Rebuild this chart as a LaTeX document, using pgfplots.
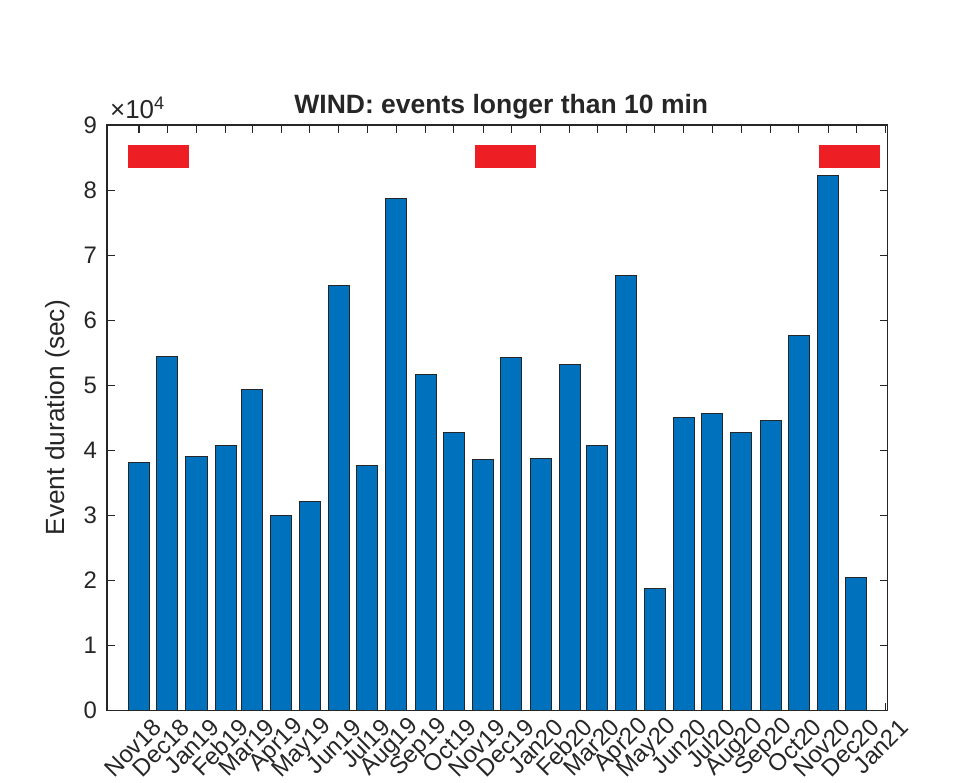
\documentclass[border=0pt]{standalone}
\usepackage{fontspec}
\setmainfont{Liberation Sans}
\usepackage{pgfplots}
\pgfplotsset{compat=1.18}
\definecolor{barblue}{rgb}{0,0.447,0.741}
\definecolor{axgray}{rgb}{0.15,0.15,0.15}
\definecolor{evred}{RGB}{237,30,36}
\begin{document}
\begin{tikzpicture}
\path[use as bounding box] (-107bp,-72.5bp) rectangle (849bp,710.5bp);
\begin{axis}[
  at={(0,0)}, anchor=south west,
  scale only axis, width=780.5bp, height=585.5bp,
  xmin=-34, xmax=794, ymin=0, ymax=90000,
  axis line style={axgray, line width=1.1bp},
  every tick/.style={axgray, line width=1.1bp},
  major tick length=8bp,
  tick align=inside,
  xtick={0,30,61,92,120,151,181,212,242,273,304,334,365,395,426,457,486,517,547,578,608,639,670,700,731,761,792},
  xticklabels={Nov18,Dec18,Jan19,Feb19,Mar19,Apr19,May19,Jun19,Jul19,Aug19,Sep19,Oct19,Nov19,Dec19,Jan20,Feb20,Mar20,Apr20,May20,Jun20,Jul20,Aug20,Sep20,Oct20,Nov20,Dec20,Jan21},
  ytick={0,10000,20000,30000,40000,50000,60000,70000,80000,90000},
  yticklabels={0,1,2,3,4,5,6,7,8,9},
  scaled y ticks=false,
  tick label style={font=\fontsize{24}{28}\selectfont, text=axgray},
  xticklabel style={rotate=45, anchor=east, inner sep=1bp, xshift=5bp, yshift=-22bp},
  yticklabel style={inner sep=2bp, xshift=-8bp},
  ylabel={Event duration (sec)},
  ylabel style={at={(axis description cs:-0.0628,0.5)}, anchor=center, rotate=0, font=\fontsize{26.4}{30}\selectfont, text=axgray},
  title={WIND: events longer than 10 min},
  title style={at={(axis description cs:0.5,1)}, anchor=base, xshift=4bp, yshift=6bp, font=\bfseries\fontsize{26.6}{30}\selectfont, text=black!85},
  clip=false,
]
\addplot[ybar, bar width=22.4, fill=barblue, draw=black!85, line width=1bp] coordinates {
(0,38100) (30,54400) (61,39100) (92,40800) (120,49400) (151,30000) (181,32100)
(212,65300) (242,37600) (273,78700) (304,51700) (334,42800) (365,38600) (395,54300)
(426,38800) (457,53200) (486,40800) (517,66900) (547,18700) (578,45100) (608,45700)
(639,42700) (670,44600) (700,57700) (731,82300) (761,20400)
};
\addplot[fill=evred, draw=none] coordinates {(-12,83400) (53,83400) (53,86900) (-12,86900)} -- cycle;
\addplot[fill=evred, draw=none] coordinates {(356,83400) (421,83400) (421,86900) (356,86900)} -- cycle;
\addplot[fill=evred, draw=none] coordinates {(721,83400) (786,83400) (786,86900) (721,86900)} -- cycle;
\node[anchor=base west, inner sep=0pt, text=axgray, font=\fontsize{26}{30}\selectfont] at (rel axis cs:0,1) [xshift=3bp, yshift=7bp] {×10\textsuperscript{4}};
\end{axis}
\end{tikzpicture}
\end{document}
